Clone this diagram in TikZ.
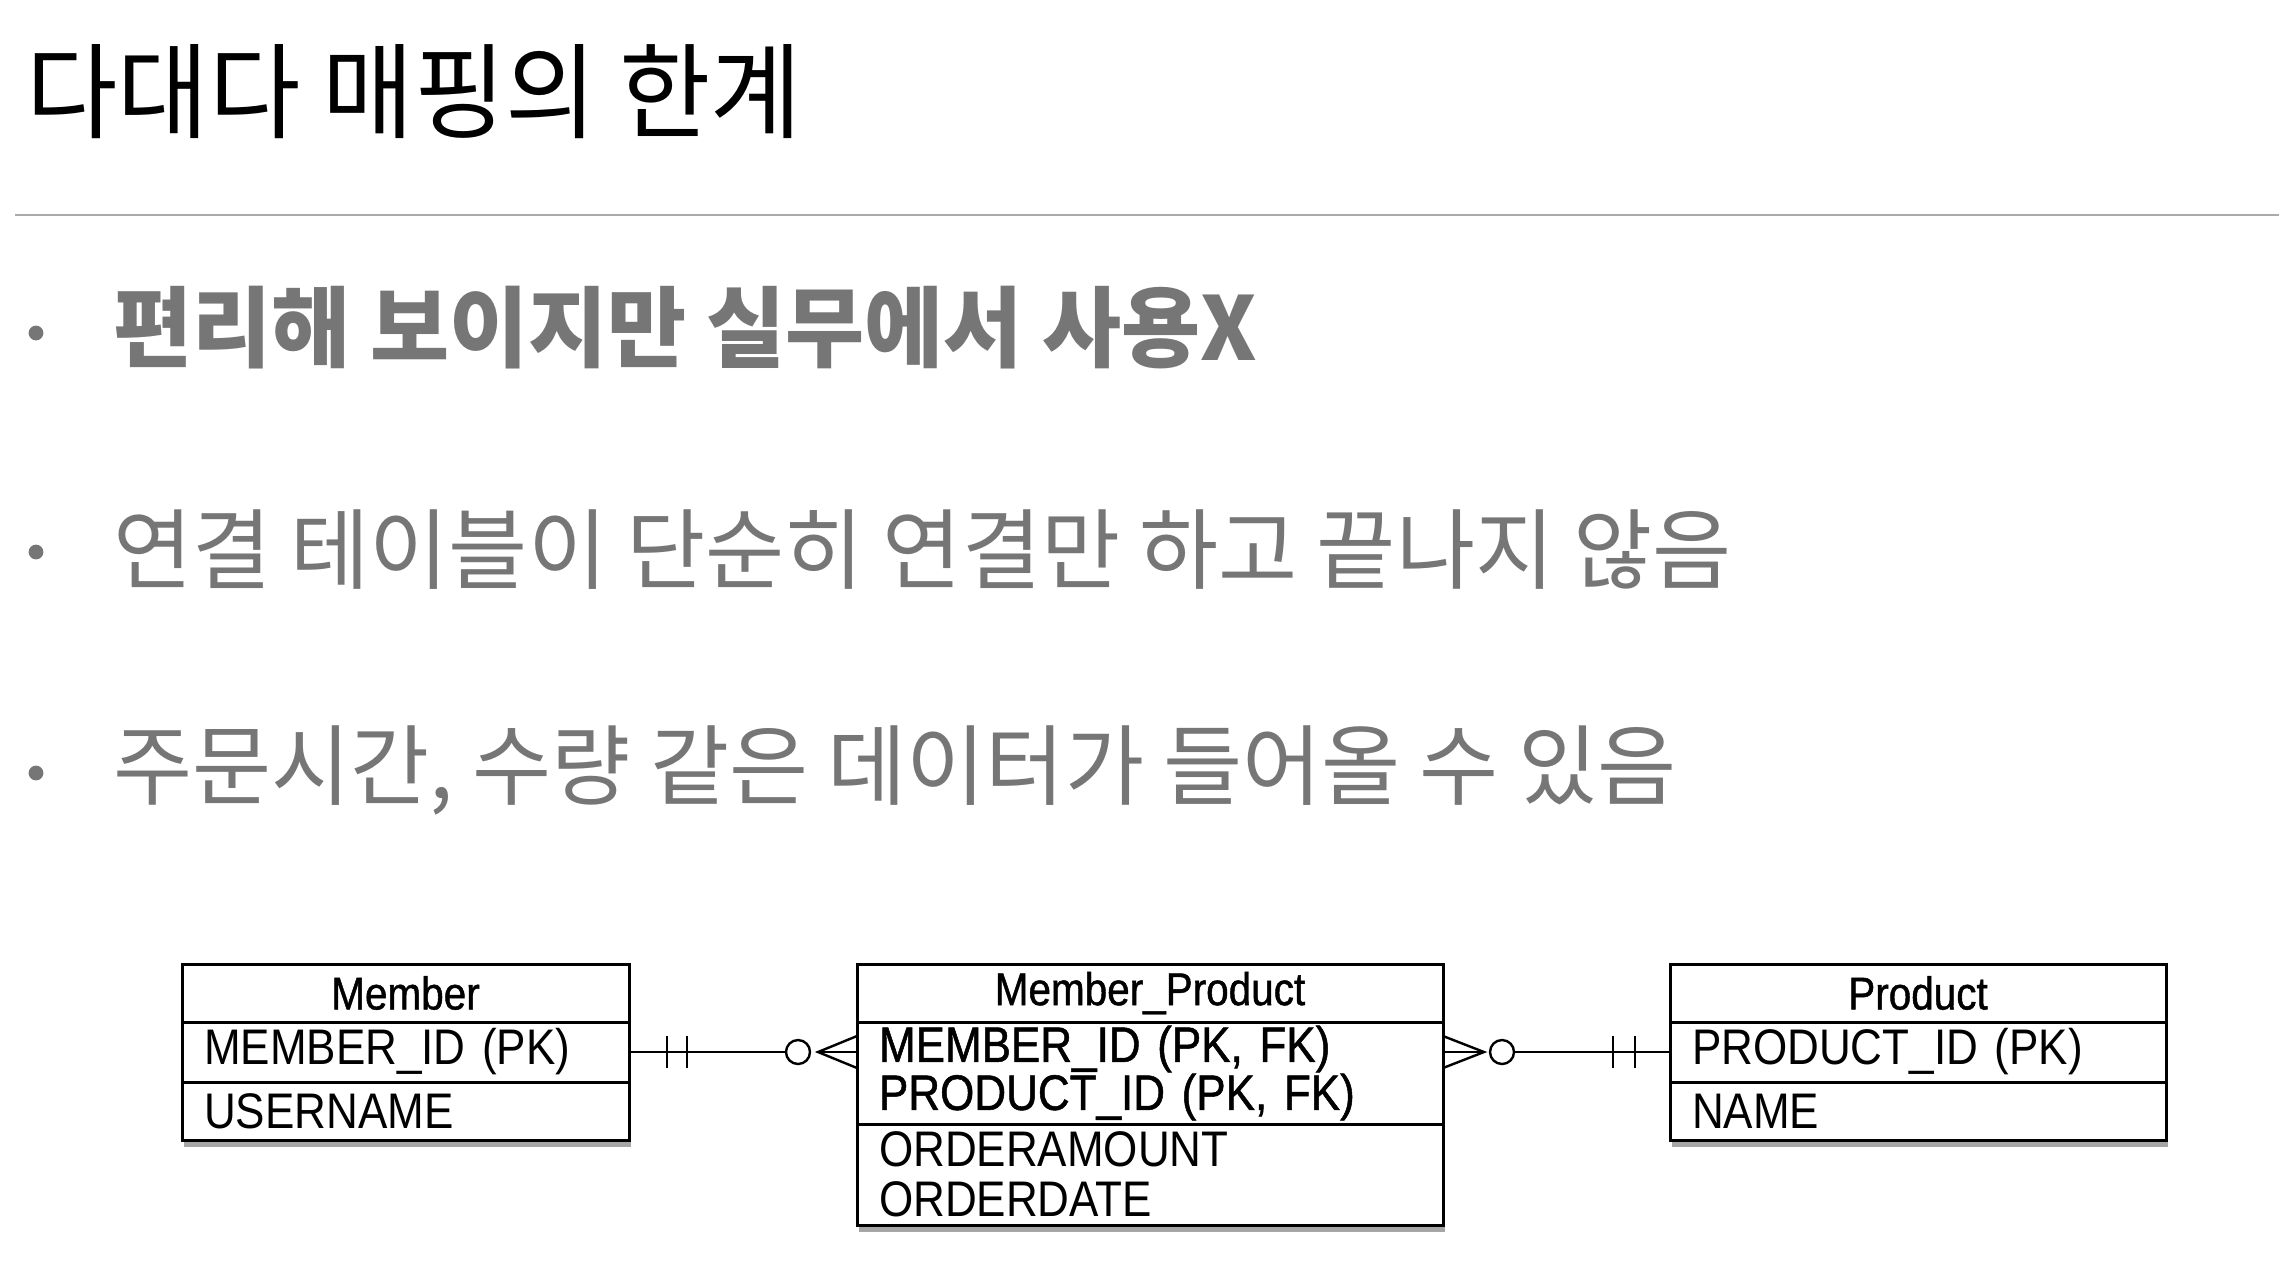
\documentclass[tikz,border=0pt]{standalone}
\usepackage{fontspec}
\setmainfont{Liberation Sans}
\newfontfamily\krtitle[FakeStretch=0.955]{Noto Sans CJK KR}
\newfontfamily\krfont[FakeStretch=0.977]{Noto Sans CJK KR}
\newfontfamily\erfont[FakeStretch=0.88]{Liberation Sans}
\newfontfamily\erbold[FakeStretch=0.88,FakeBold=1]{Liberation Sans}
\usetikzlibrary{positioning}
\usetikzlibrary{calc}
\usetikzlibrary{shadows}
\definecolor{txtgray}{RGB}{118,118,118}
\definecolor{rulegray}{RGB}{170,170,170}
\tikzset{ttl/.style={font=\krtitle\fontsize{52}{52}\selectfont, anchor=west, inner sep=0pt}}
\tikzset{bul/.style={font=\krfont\fontsize{44}{44}\selectfont, text=txtgray, anchor=west, inner sep=0pt}}
\tikzset{tbl/.style={draw, line width=1.5pt, fill=white, inner ysep=0pt, outer sep=0pt,
  drop shadow={shadow xshift=1pt, shadow yshift=-3.5pt, opacity=0.35, fill=black}}}
\tikzset{hd/.style={tbl, font=\erbold\fontsize{23}{23}\selectfont, minimum height=29pt}}
\tikzset{fld/.style={tbl, font=\erfont\fontsize{25}{24}\selectfont, text width=#1, align=left, inner xsep=11pt}}
\tikzset{rel/.style={line width=1.2pt}}

\begin{document}
\begin{tikzpicture}[x=0.5pt,y=-0.5pt]
  \useasboundingbox (0,0) rectangle (2279,1266);
  % title and rule
  \node[ttl] (title) at (26,92) {다대다 매핑의 한계};
  \draw[rulegray, line width=1pt] (15,215) -- (2279,215);
  % bullets
  \fill[txtgray] (36,333) circle[radius=3.7pt];
  \fill[txtgray] (36,552) circle[radius=3.7pt];
  \fill[txtgray] (36,773) circle[radius=3.7pt];
  \node[bul, font=\krfont\bfseries\fontsize{44}{44}\selectfont] (b1) at (113,328) {편리해 보이지만 실무에서 사용X};
  \node[bul] (b2) at (113,550) {연결 테이블이 단순히 연결만 하고 끝나지 않음};
  \node[bul] (b3) at (113,770) {주문시간, 수량 같은 데이터가 들어올 수 있음};

  % Member
  \node[hd, minimum width=223.5pt, anchor=north west] (memh) at (182,964) {Member};
  \node[fld=201.5pt, minimum height=30pt, below=0pt of memh] (mem1) {MEMBER\_ID (PK)};
  \node[fld=201.5pt, minimum height=29pt, below=0pt of mem1] (mem2) {USERNAME};
  % Member_Product
  \node[hd, minimum width=293pt, anchor=north west] (mph) at (857,964) {Member\_Product};
  \node[fld=271pt, minimum height=51pt, below=0pt of mph, font=\erbold\fontsize{25}{24}\selectfont] (mpk) {MEMBER\_ID (PK, FK)\\PRODUCT\_ID (PK, FK)};
  \node[fld=271pt, minimum height=50.5pt, below=0pt of mpk, font=\erfont\fontsize{25}{25}\selectfont] (mpa) {ORDERAMOUNT\\ORDERDATE};
  % Product
  \node[hd, minimum width=248pt, anchor=north west] (proh) at (1670,964) {Product};
  \node[fld=226pt, minimum height=30pt, below=0pt of proh] (pro1) {PRODUCT\_ID (PK)};
  \node[fld=226pt, minimum height=29pt, below=0pt of pro1] (pro2) {NAME};

  % Member ||---o< Member_Product
  \coordinate (lm) at (mem1.east);
  \coordinate (lp) at (mem1.east -| mpk.west);
  \draw[rel] (lm) -- ($(lp)+(-71,0)$);
  \draw[rel] ($(lm)+(38,-16)$) -- ($(lm)+(38,16)$);
  \draw[rel] ($(lm)+(58,-16)$) -- ($(lm)+(58,16)$);
  \draw[rel] ($(lp)+(-59,0)$) circle[radius=6pt];
  \draw[rel] ($(lp)+(0,-16)$) -- ($(lp)+(-39,0)$) -- ($(lp)+(0,16)$);
  \draw[rel] ($(lp)+(-39,0)$) -- (lp);
  % Member_Product >o---|| Product
  \coordinate (rp) at (pro1.west);
  \coordinate (rm) at (pro1.west -| mpk.east);
  \draw[rel] ($(rm)+(71,0)$) -- (rp);
  \draw[rel] ($(rp)+(-57,-16)$) -- ($(rp)+(-57,16)$);
  \draw[rel] ($(rp)+(-35,-16)$) -- ($(rp)+(-35,16)$);
  \draw[rel] ($(rm)+(59,0)$) circle[radius=6pt];
  \draw[rel] ($(rm)+(0,-16)$) -- ($(rm)+(41,0)$) -- ($(rm)+(0,16)$);
  \draw[rel] (rm) -- ($(rm)+(41,0)$);
\end{tikzpicture}
\end{document}
